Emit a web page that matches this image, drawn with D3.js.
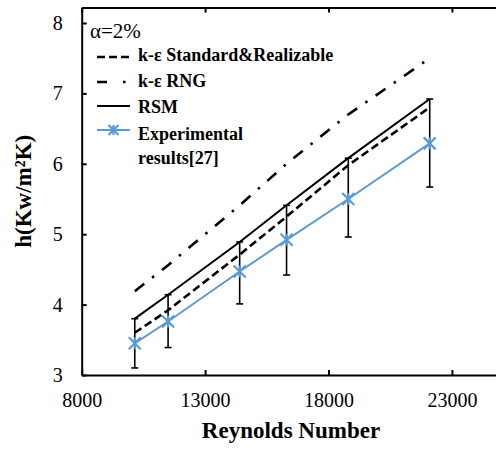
<!DOCTYPE html>
<html><head><meta charset="utf-8">
<script src="https://cdn.jsdelivr.net/npm/d3@7"></script>
<style>body{margin:0;background:#fff} svg{display:block}</style>
</head><body>
<script>
// ---- data ----
const reynolds = [10150, 11500, 14400, 16300, 18800, 22100];
const kepsStdReal = [3.60, 3.92, 4.71, 5.25, 5.98, 6.80];
const kepsRNG = [4.19, 4.56, 5.41, 6.00, 6.70, 7.50];
const rsm = [3.80, 4.14, 4.89, 5.41, 6.08, 6.92];
const experimental = [3.45, 3.76, 4.47, 4.92, 5.50, 6.29];
const errUpper = [0.35, 0.38, 0.42, 0.49, 0.58, 0.63];
const errLower = [0.35, 0.37, 0.46, 0.50, 0.54, 0.62];
const xTicks = [8000, 13000, 18000, 23000];
const yTicks = [3, 4, 5, 6, 7, 8];
const xDomain = [8000, 25000];
const yDomain = [3, 8.22];
const legendNote = "α=2%";
const legendLabels = ["k-ε Standard&Realizable", "k-ε RNG", "RSM", ["Experimental", "results[27]"]];
const xTitle = "Reynolds Number";
const yTitle = "h(Kw/m²K)";

// ---- drawing ----
const W = 496, H = 450;
const FONT = "Liberation Serif";
const BLUE = "#5b9bd5";
const svg = d3.select("body").append("svg").attr("width", W).attr("height", H)
  .attr("font-family", FONT);

const x = d3.scaleLinear().domain(xDomain).range([81.7, 501.3]);
const y = d3.scaleLinear().domain(yDomain).range([375, 7.5]);

const ax = svg.append("g");
const axisStyle = g => {
  g.attr("font-family", FONT).attr("font-size", 20);
  g.select(".domain").attr("stroke", "#000").attr("stroke-width", 2);
  g.selectAll(".tick line").attr("stroke", "#000").attr("stroke-width", 2);
  g.selectAll(".tick text").attr("fill", "#000").attr("font-family", FONT).attr("font-size", 20);
};
ax.append("g").attr("transform", `translate(0,${y(yDomain[0])})`)
  .call(d3.axisBottom(x).tickValues(xTicks).tickSize(-5).tickSizeOuter(0).tickPadding(18).tickFormat(d3.format("d")))
  .call(axisStyle);
ax.append("g").attr("transform", `translate(0,${y(yDomain[1])})`)
  .call(d3.axisTop(x).tickValues(xTicks).tickSize(-5).tickSizeOuter(0).tickFormat(""))
  .call(axisStyle);
ax.append("g").attr("transform", `translate(${x(xDomain[0])},0)`)
  .call(d3.axisLeft(y).tickValues(yTicks).tickSize(-5).tickSizeOuter(0).tickPadding(19).tickFormat(d3.format("d")))
  .call(axisStyle);
ax.append("g").attr("transform", `translate(${x(xDomain[1])},0)`)
  .call(d3.axisRight(y).tickValues(yTicks).tickSize(-5).tickSizeOuter(0).tickFormat(""))
  .call(axisStyle);

// titles
svg.append("text").attr("x", 291).attr("y", 438).attr("text-anchor", "middle")
  .attr("font-family", FONT).attr("font-size", 23).attr("font-weight", "bold").text(xTitle);
svg.append("text").attr("transform", `translate(31,${(y(yDomain[0]) + y(yDomain[1])) / 2}) rotate(-90)`)
  .attr("text-anchor", "middle").attr("font-family", FONT).attr("font-size", 23).attr("font-weight", "bold").text(yTitle);

const line = d3.line().x(d => x(d[0])).y(d => y(d[1]));
const pts = vals => reynolds.map((r, i) => [r, vals[i]]);

// error bars
const eb = svg.append("g").attr("stroke", "#000").attr("stroke-width", 1.6);
reynolds.forEach((r, i) => {
  const top = experimental[i] + errUpper[i], bot = experimental[i] - errLower[i];
  eb.append("line").attr("x1", x(r)).attr("x2", x(r)).attr("y1", y(top)).attr("y2", y(bot));
  [top, bot].forEach(v => eb.append("line").attr("x1", x(r) - 3.5).attr("x2", x(r) + 3.5).attr("y1", y(v)).attr("y2", y(v)));
});

const DASH = "8,4", DASHDOT = "12,10,2.5,10";
svg.append("path").datum(pts(kepsRNG)).attr("d", line).attr("fill", "none").attr("stroke", "#000")
  .attr("stroke-width", 2.6).attr("stroke-dasharray", DASHDOT);
svg.append("path").datum(pts(kepsStdReal)).attr("d", line).attr("fill", "none").attr("stroke", "#000")
  .attr("stroke-width", 2.6).attr("stroke-dasharray", DASH);
svg.append("path").datum(pts(rsm)).attr("d", line).attr("fill", "none").attr("stroke", "#000")
  .attr("stroke-width", 2);
svg.append("path").datum(pts(experimental)).attr("d", line).attr("fill", "none").attr("stroke", BLUE)
  .attr("stroke-width", 2);

const star = (g, cx, cy, s) => {
  const p = `M${cx - s},${cy - s}L${cx + s},${cy + s}M${cx - s},${cy + s}L${cx + s},${cy - s}M${cx},${cy - s}L${cx},${cy + s}`;
  g.append("path").attr("d", p).attr("stroke", BLUE).attr("stroke-width", 2.2).attr("fill", "none");
};
const mk = svg.append("g");
reynolds.forEach((r, i) => star(mk, x(r), y(experimental[i]), 6));

// legend
const lg = svg.append("g");
lg.append("text").attr("x", 90).attr("y", 38).attr("font-family", FONT).attr("font-size", 21).text(legendNote);
const lx0 = 97, lx1 = 130, tx = 138;
const rows = [57, 82, 106, 130];
const textRows = [61, 87, 113, 140];
lg.append("line").attr("x1", lx0).attr("x2", lx1).attr("y1", rows[0]).attr("y2", rows[0])
  .attr("stroke", "#000").attr("stroke-width", 2.6).attr("stroke-dasharray", DASH);
lg.append("line").attr("x1", lx0).attr("x2", lx1).attr("y1", rows[1]).attr("y2", rows[1])
  .attr("stroke", "#000").attr("stroke-width", 2.6).attr("stroke-dasharray", "10,16,2.5,20");
lg.append("line").attr("x1", lx0).attr("x2", lx1).attr("y1", rows[2]).attr("y2", rows[2])
  .attr("stroke", "#000").attr("stroke-width", 2);
lg.append("line").attr("x1", lx0).attr("x2", lx1).attr("y1", rows[3]).attr("y2", rows[3])
  .attr("stroke", BLUE).attr("stroke-width", 2);
star(lg, (lx0 + lx1) / 2, rows[3], 5);
legendLabels.forEach((lab, i) => {
  const t = lg.append("text").attr("x", tx).attr("y", textRows[i])
    .attr("font-family", FONT).attr("font-size", 18).attr("font-weight", "bold");
  if (Array.isArray(lab)) {
    lab.forEach((s, j) => t.append("tspan").attr("x", tx).attr("dy", j ? 23.5 : 0).text(s));
  } else t.text(lab);
});
</script>
</body></html>
